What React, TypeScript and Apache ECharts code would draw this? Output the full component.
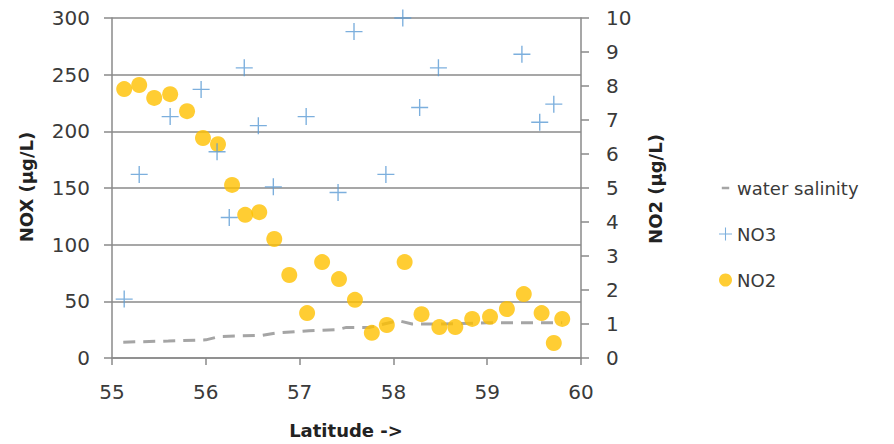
import React, { useEffect, useRef } from "react";
import * as echarts from "echarts";

const no3Lat = [55.13, 55.29, 55.62, 55.95, 56.12, 56.25, 56.41, 56.56, 56.72, 57.07, 57.41, 57.58, 57.92, 58.1, 58.28, 58.48, 59.37, 59.56, 59.71];
const no3Val = [52, 162, 213, 237, 182, 124, 256, 205, 151, 213, 146, 288, 162, 300, 221, 256, 268, 208, 224];

const no2Lat = [55.13, 55.29, 55.45, 55.62, 55.8, 55.97, 56.13, 56.28, 56.42, 56.57, 56.73, 56.89, 57.08, 57.24, 57.42, 57.59, 57.77, 57.93, 58.12, 58.3, 58.49, 58.66, 58.84, 59.03, 59.21, 59.39, 59.58, 59.71, 59.8];
const no2Val = [7.91, 8.03, 7.65, 7.76, 7.26, 6.47, 6.29, 5.09, 4.21, 4.29, 3.5, 2.44, 1.32, 2.82, 2.32, 1.71, 0.74, 0.97, 2.82, 1.29, 0.91, 0.91, 1.15, 1.21, 1.44, 1.88, 1.32, 0.44, 1.15];

const salLat = [55.12, 55.6, 56.0, 56.15, 56.6, 56.75, 57.1, 57.4, 57.5, 57.75, 57.9, 58.05, 58.2, 58.5, 59.0, 59.5, 59.8];
const salVal = [14, 15, 16, 19, 20, 22, 24, 25, 27, 27, 30, 33, 30, 30, 31, 31, 31];

const xTicks = { min: 55, max: 60, interval: 1 };
const leftTicks = { min: 0, max: 300, interval: 50 };
const rightTicks = { min: 0, max: 10, interval: 1 };

const FONT = "DejaVu Sans";
const GRID_COLOR = "#8a8a8a";
const TEXT_COLOR = "#3a3a3a";
const PLUS = "path://M4.6,0H5.4V4.6H10V5.4H5.4V10H4.6V5.4H0V4.6H4.6Z";
const DASH_ICON = "path://M0,0h0.01v0.01h-0.01zM3,5.7h8v2.6h-8zM13.99,13.99h0.01v0.01h-0.01z";

export default function App() {
  const ref = useRef<HTMLDivElement>(null);
  useEffect(() => {
    if (!ref.current) return;
    const chart = echarts.init(ref.current, undefined, { renderer: "svg" });
    const zip = (a: number[], b: number[]) => a.map((v, i) => [v, b[i]]);
    chart.setOption({
      animation: false,
      backgroundColor: "#ffffff",
      textStyle: { fontFamily: FONT },
      grid: { left: 112, right: 313, top: 18, bottom: 86 },
      legend: {
        orient: "vertical",
        left: 714,
        top: 174,
        itemWidth: 13,
        itemHeight: 13,
        itemGap: 28,
        textStyle: { fontFamily: FONT, fontSize: 18, color: TEXT_COLOR },
        data: [
          { name: "water salinity", icon: DASH_ICON },
          { name: "NO3" },
          { name: "NO2" },
        ],
      },
      xAxis: {
        type: "value",
        ...xTicks,
        axisLine: { show: true, onZero: false, lineStyle: { color: GRID_COLOR, width: 1.5 } },
        axisTick: { show: true, length: 7, lineStyle: { color: GRID_COLOR, width: 1.5 } },
        axisLabel: { fontFamily: FONT, fontSize: 20, color: TEXT_COLOR, margin: 24 },
        splitLine: { show: false },
      },
      yAxis: [
        {
          type: "value",
          ...leftTicks,
          axisLine: { show: true, lineStyle: { color: GRID_COLOR, width: 1.5 } },
          axisTick: { show: true, length: 8, lineStyle: { color: GRID_COLOR, width: 1.5 } },
          axisLabel: { fontFamily: FONT, fontSize: 20, color: TEXT_COLOR, margin: 22 },
          splitLine: { show: true, lineStyle: { color: GRID_COLOR, width: 1.5 } },
        },
        {
          type: "value",
          ...rightTicks,
          position: "right",
          axisLine: { show: true, lineStyle: { color: GRID_COLOR, width: 1.5 } },
          axisTick: { show: true, length: 8, lineStyle: { color: GRID_COLOR, width: 1.5 } },
          axisLabel: { fontFamily: FONT, fontSize: 20, color: TEXT_COLOR, margin: 25 },
          splitLine: { show: false },
        },
      ],
      graphic: [
        {
          type: "text",
          x: 26,
          y: 187,
          rotation: Math.PI / 2,
          style: { text: "NOX (µg/L)", font: `bold 18px "${FONT}"`, fill: "#222", align: "center", verticalAlign: "middle" },
        },
        {
          type: "text",
          x: 655,
          y: 189,
          rotation: Math.PI / 2,
          style: { text: "NO2 (µg/L)", font: `bold 18px "${FONT}"`, fill: "#222", align: "center", verticalAlign: "middle" },
        },
        {
          type: "text",
          x: 346,
          y: 430,
          style: { text: "Latitude ->", font: `bold 18px "${FONT}"`, fill: "#222", align: "center", verticalAlign: "middle" },
        },
      ],
      series: [
        {
          name: "water salinity",
          type: "line",
          yAxisIndex: 0,
          data: zip(salLat, salVal),
          symbol: "none",
          itemStyle: { color: "#a5a5a5" },
          lineStyle: { color: "#a5a5a5", width: 3, type: [12, 8] },
          z: 1,
        },
        {
          name: "NO3",
          type: "scatter",
          yAxisIndex: 0,
          data: zip(no3Lat, no3Val),
          symbol: PLUS,
          symbolSize: 17,
          itemStyle: { color: "#5b9bd5" },
          z: 3,
        },
        {
          name: "NO2",
          type: "scatter",
          yAxisIndex: 1,
          data: zip(no2Lat, no2Val),
          symbol: "circle",
          symbolSize: 16,
          itemStyle: { color: "#ffc000" },
          z: 2,
        },
      ],
    });
    return () => chart.dispose();
  }, []);
  return <div ref={ref} style={{ position: "fixed", left: 0, top: 0, width: 894, height: 444 }} />;
}
